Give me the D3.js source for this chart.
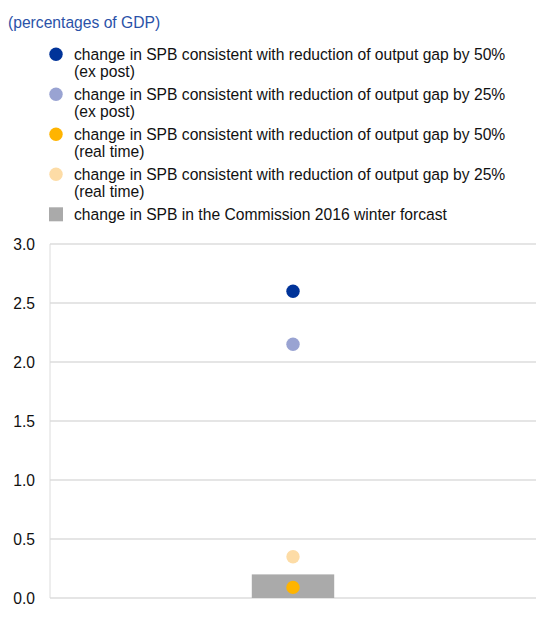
<!DOCTYPE html>
<html>
<head>
<meta charset="utf-8">
<script src="https://cdn.jsdelivr.net/npm/d3@7"></script>
<style>
  body { margin: 0; background: #fff; }
  svg { display: block; font-family: "Liberation Sans", Arial, sans-serif; }
</style>
</head>
<body>
<div id="container"></div>
<script>
const width = 536
const height = 620

// data
const categories = ['2016']
const barValues = [0.2]
const dotSeries = ['50% ex post', '25% ex post', '50% real time', '25% real time']
const dotValues = [2.6, 2.15, 0.09, 0.35]
const yTicks = [0, 0.5, 1, 1.5, 2, 2.5, 3]
const legendLabels = [
  ['change in SPB consistent with reduction of output gap by 50%', '(ex post)'],
  ['change in SPB consistent with reduction of output gap by 25%', '(ex post)'],
  ['change in SPB consistent with reduction of output gap by 50%', '(real time)'],
  ['change in SPB consistent with reduction of output gap by 25%', '(real time)'],
  ['change in SPB in the Commission 2016 winter forcast']
]

const dotColors = ['#003399', '#99a3d2', '#ffb400', '#fddca6']
const barColor = '#aaaaaa'
const fontSize = 15.65

const svg = d3.select('#container')
  .append('svg')
  .attr('width', width)
  .attr('height', height)

// title
svg.append('text')
  .attr('x', 8)
  .attr('y', 28)
  .attr('fill', '#2a52a8')
  .attr('font-size', fontSize)
  .text('(percentages of GDP)')

// legend
const legendItems = [
  ...dotColors.map((c, i) => ({ color: c, shape: 'circle', lines: legendLabels[i] })),
  { color: barColor, shape: 'rect', lines: legendLabels[4] }
]

const legend = svg.selectAll('g.legend')
  .data(legendItems)
  .enter()
  .append('g')
  .attr('class', 'legend')
  .attr('transform', (d, i) => `translate(56, ${54.3 + i * 40})`)

legend.filter(d => d.shape === 'circle')
  .append('circle')
  .attr('r', 6.7)
  .attr('fill', d => d.color)

legend.filter(d => d.shape === 'rect')
  .append('rect')
  .attr('x', -7)
  .attr('y', -7)
  .attr('width', 14)
  .attr('height', 14)
  .attr('fill', d => d.color)

legend.each(function (d) {
  const t = d3.select(this).append('text')
    .attr('x', 18)
    .attr('y', 5.5)
    .attr('font-size', fontSize)
    .attr('fill', '#111')
  d.lines.forEach((line, j) => {
    t.append('tspan').attr('x', 18).attr('dy', j === 0 ? 0 : 17.7).text(line)
  })
})

// chart
const margin = { top: 244, left: 50, right: 0, bottom: 22 }
const x = d3.scaleBand()
  .domain(categories)
  .range([margin.left, width - margin.right])
  .padding(0.71)

const y = d3.scaleLinear()
  .domain([0, 3])
  .range([height - margin.bottom, margin.top])

const grid = svg.append('g')
grid.selectAll('line')
  .data(yTicks)
  .enter()
  .append('line')
  .attr('x1', margin.left)
  .attr('x2', width - margin.right)
  .attr('y1', d => y(d))
  .attr('y2', d => y(d))
  .attr('stroke', '#dcdcdc')
  .attr('stroke-width', 1.5)

svg.append('line')
  .attr('x1', margin.left)
  .attr('x2', margin.left)
  .attr('y1', y(3))
  .attr('y2', y(0))
  .attr('stroke', '#dcdcdc')
  .attr('stroke-width', 1)

const yAxis = svg.append('g')
  .attr('transform', `translate(${margin.left}, 0)`)
  .call(d3.axisLeft(y).tickValues(yTicks).tickFormat(d3.format('.1f')).tickSize(0).tickPadding(15))
yAxis.select('.domain').remove()
yAxis.selectAll('text')
  .attr('font-size', fontSize)
  .attr('font-family', '"Liberation Sans", Arial, sans-serif')
  .attr('fill', '#111')

svg.selectAll('rect.bar')
  .data(barValues)
  .enter()
  .append('rect')
  .attr('class', 'bar')
  .attr('x', (d, i) => x(categories[i]))
  .attr('width', x.bandwidth())
  .attr('y', d => y(d))
  .attr('height', d => y(0) - y(d))
  .attr('fill', barColor)

svg.selectAll('circle.dot')
  .data(dotValues)
  .enter()
  .append('circle')
  .attr('class', 'dot')
  .attr('cx', x(categories[0]) + x.bandwidth() / 2)
  .attr('cy', d => y(d))
  .attr('r', 6.7)
  .attr('fill', (d, i) => dotColors[i])
</script>
</body>
</html>
